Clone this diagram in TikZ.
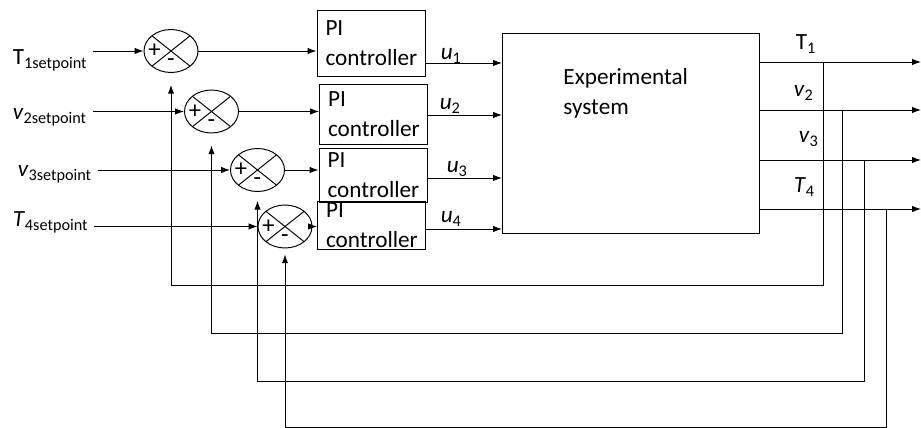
\documentclass[tikz,border=0pt]{standalone}
\usepackage{fontspec}
\setmainfont{Carlito}
\usetikzlibrary{arrows.meta,positioning,shapes.geometric}

\begin{document}
\begin{tikzpicture}[
		x=0.02cm, y=-0.02cm,
		line width=0.55pt,
		every node/.style={font=\fontsize{13.2}{17}\selectfont},
		sum/.style={
			ellipse,
			draw,
			minimum width=1.08cm,
			minimum height=0.86cm,
			inner sep=0pt,
			path picture={
				\draw (path picture bounding box.north west) -- (path picture bounding box.south east);
				\draw (path picture bounding box.north east) -- (path picture bounding box.south west);
			}
		},
		sign/.style={inner sep=0pt, font=\fontsize{14}{16}\selectfont},
		pibox/.style={
			rectangle,
			draw,
			align=left,
			text width=1.82cm,
			inner xsep=0.17cm,
			inner ysep=1pt
		},
		lbl/.style={inner ysep=0pt, inner xsep=3pt, anchor=base west},
		arrow/.style={-{Latex[length=5pt,width=3.6pt]}}
		]
		\useasboundingbox (0,0) rectangle (921,428);
		
		\node[lbl] (sp1) at (7,65) {T\textsubscript{1setpoint}};
		\node[lbl] (sp2) at (7,120) {\textit{v}\textsubscript{2setpoint}};
		\node[lbl] (sp3) at (12,177) {\textit{v}\textsubscript{3setpoint}};
		\node[lbl] (sp4) at (7,227) {\textit{T}\textsubscript{4setpoint}};
		
		\node[sum] (s1) at (171,51) {};
		\node[sum] (s2) at (211.5,111.5) {};
		\node[sum] (s3) at (257.5,170) {};
		\node[sum] (s4) at (285,226.5) {};
		\node[sign] (p1) at ([xshift=-0.33cm]s1.center) {+};
		\node[sign] (m1) at ([yshift=-0.24cm]s1.center) {-};
		\node[sign] (p2) at ([xshift=-0.33cm]s2.center) {+};
		\node[sign] (m2) at ([yshift=-0.24cm]s2.center) {-};
		\node[sign] (p3) at ([xshift=-0.33cm]s3.center) {+};
		\node[sign] (m3) at ([yshift=-0.24cm]s3.center) {-};
		\node[sign] (p4) at ([xshift=-0.33cm]s4.center) {+};
		\node[sign] (m4) at ([yshift=-0.24cm]s4.center) {-};
		
		\node[pibox, minimum height=1.32cm] (pi1) at (371,43) {PI\\controller};
		\node[pibox, minimum height=1.2cm] (pi2) at (373.5,114) {PI\\controller};
		\node[pibox, minimum height=1.08cm] (pi3) at (373,175) {PI\\controller};
		\node[pibox, minimum height=0.94cm] (pi4) at (371.5,225.5) {PI\\controller};
		
		\node[lbl] (u1) at (435,60) {\textit{u}\textsubscript{1}};
		\node[lbl] (u2) at (434,110) {\textit{u}\textsubscript{2}};
		\node[lbl] (u3) at (441,173) {\textit{u}\textsubscript{3}};
		\node[lbl] (u4) at (435,223) {\textit{u}\textsubscript{4}};
		
		\node[draw, minimum width=5.16cm, minimum height=4.02cm] (sys) at (631,133.5) {};
		\node[anchor=north west, inner sep=0pt, align=left] (systxt) at (563,68) {Experimental\\system};
		
		\node[lbl] (t1) at (790,50) {T\textsubscript{1}};
		\node[lbl] (v2) at (788,97) {\textit{v}\textsubscript{2}};
		\node[lbl] (v3) at (793,143) {\textit{v}\textsubscript{3}};
		\node[lbl] (t4) at (788,193) {\textit{T}\textsubscript{4}};
		
		\coordinate (in1) at (502,63);
		\coordinate (in2) at (502,115);
		\coordinate (in3) at (502,178);
		\coordinate (in4) at (502,229);
		\coordinate (y1) at (921,62);
		\coordinate (y2) at (921,110);
		\coordinate (y3) at (921,160);
		\coordinate (y4) at (921,209);
		\coordinate (fb1) at (823,62);
		\coordinate (fb2) at (842,110);
		\coordinate (fb3) at (864,160);
		\coordinate (fb4) at (886,209);
		\coordinate (l1) at (0,285);
		\coordinate (l2) at (0,333);
		\coordinate (l3) at (0,381);
		\coordinate (l4) at (0,427.6);
		
		\draw[arrow] (sp1.east |- s1.west) -- (s1.west);
		\draw[arrow] (sp2.east |- s2.west) -- (s2.west);
		\draw[arrow] (sp3.east |- s3.west) -- (s3.west);
		\draw[arrow] (sp4.east |- s4.west) -- (s4.west);
		
		\draw[arrow] (s1.east) -- (s1.east -| pi1.west);
		\draw[arrow] (s2.east) -- (s2.east -| pi2.west);
		\draw[arrow] (s3.east) -- (s3.east -| pi3.west);
		\draw[arrow] (s4.east) -- (s4.east -| pi4.west);
		
		\draw[arrow] (pi1.east |- in1) -- (in1);
		\draw[arrow] (pi2.east |- in2) -- (in2);
		\draw[arrow] (pi3.east |- in3) -- (in3);
		\draw[arrow] (pi4.east |- in4) -- (in4);
		
		\draw[arrow] (sys.east |- y1) -- (y1);
		\draw[arrow] (sys.east |- y2) -- (y2);
		\draw[arrow] (sys.east |- y3) -- (y3);
		\draw[arrow] (sys.east |- y4) -- (y4);
		
		\draw[arrow, shorten >=6.8pt] (fb1) |- (s1.south |- l1) -- (s1.south);
		\draw[arrow, shorten >=6.8pt] (fb2) |- (s2.south |- l2) -- (s2.south);
		\draw[arrow, shorten >=5pt] (fb3) |- (s3.south |- l3) -- (s3.south);
		\draw[arrow, shorten >=3.4pt] (fb4) |- (s4.south |- l4) -- (s4.south);
	\end{tikzpicture}
\end{document}
